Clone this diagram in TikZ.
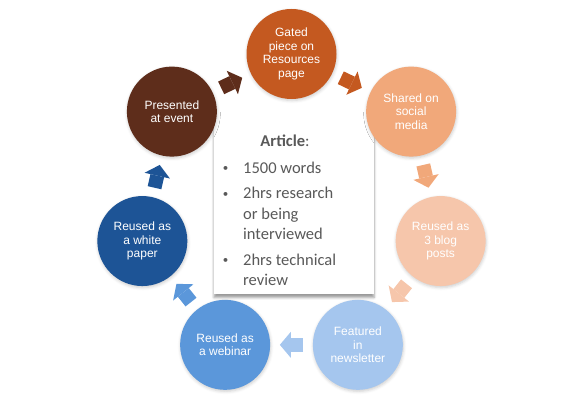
\documentclass[tikz,border=0pt]{standalone}
\usepackage{fontspec}
\setmainfont{Liberation Sans}
\newfontfamily\carlito{Carlito}
\usetikzlibrary{arrows.meta, calc, shadows.blur}

\definecolor{presc}{RGB}{94,45,27}
\definecolor{gatedc}{RGB}{196,89,32}
\definecolor{sharedc}{RGB}{241,168,122}
\definecolor{blogc}{RGB}{246,198,171}
\definecolor{newsc}{RGB}{165,198,238}
\definecolor{webc}{RGB}{91,151,218}
\definecolor{paperc}{RGB}{29,84,150}
\definecolor{textc}{RGB}{89,89,89}

\newcommand{\artbullet}{\makebox[35pt]{\raisebox{1.2pt}{\fontsize{11}{11}\selectfont\textbullet}}}

\begin{document}
\begin{tikzpicture}[x=1pt, y=1pt,
    stage/.style={circle, minimum size=90pt, inner sep=0pt, align=center, text=white, font=\fontsize{12}{13.7}\selectfont,
        blur shadow={shadow xshift=0.5pt, shadow yshift=-1.5pt, shadow blur radius=3pt, shadow opacity=20}},
    flow/.style={line width=14pt, -{Triangle[length=11pt, width=26pt, line width=0pt]}, shorten <=9.5pt, shorten >=9.5pt},
    artbox/.style={fill=white, minimum width=160pt, minimum height=182pt,
        blur shadow={shadow xshift=0pt, shadow yshift=-3.5pt, shadow blur radius=2.5pt, shadow opacity=40}},
    arttext/.style={font=\carlito\fontsize{16.5}{20.5}\selectfont, text=textc, inner sep=0pt},
]
    \useasboundingbox (0,0) rectangle (566,404);
    \coordinate (ctr) at (291.5,197);

    % Kasten in der Mitte
    \node[artbox] (box) at (294,201) {};
    \node[arttext, anchor=base] (title) at (285,257) {\textbf{Article}:};
    \node[arttext, anchor=north west] (list) at (208,245.4) {%
        \begin{tabular}{@{}l@{}l@{}}
        \artbullet & 1500 words\\[5pt]
        \artbullet & 2hrs research\\
         & or being\\
         & interviewed\\[5pt]
        \artbullet & 2hrs technical\\
         & review
        \end{tabular}};

    % Kreise
    \node[stage, fill=gatedc] (gated) at ($(ctr)+(90:153)$) {Gated\\piece on\\Resources\\page};
    \node[stage, fill=sharedc] (shared) at ($(ctr)+(38.57:153)$) {Shared on\\social\\media};
    \node[stage, fill=blogc] (blog) at ($(ctr)+(-12.86:153)$) {Reused as\\3 blog\\posts};
    \node[stage, fill=newsc] (news) at ($(ctr)+(-64.29:153)$) {Featured\\in\\newsletter};
    \node[stage, fill=webc] (webinar) at ($(ctr)+(-115.71:153)$) {Reused as\\a webinar};
    \node[stage, fill=paperc] (paper) at ($(ctr)+(-167.14:153)$) {Reused as\\a white\\paper};
    \node[stage, fill=presc] (event) at ($(ctr)+(141.43:153)$) {Presented\\at event};

    % Pfeile
    \draw[flow, presc] (event) -- (gated);
    \draw[flow, gatedc] (gated) -- (shared);
    \draw[flow, sharedc] (shared) -- (blog);
    \draw[flow, blogc] (blog) -- (news);
    \draw[flow, newsc] (news) -- (webinar);
    \draw[flow, webc] (webinar) -- (paper);
    \draw[flow, paperc] (paper) -- (event);
\end{tikzpicture}
\end{document}
